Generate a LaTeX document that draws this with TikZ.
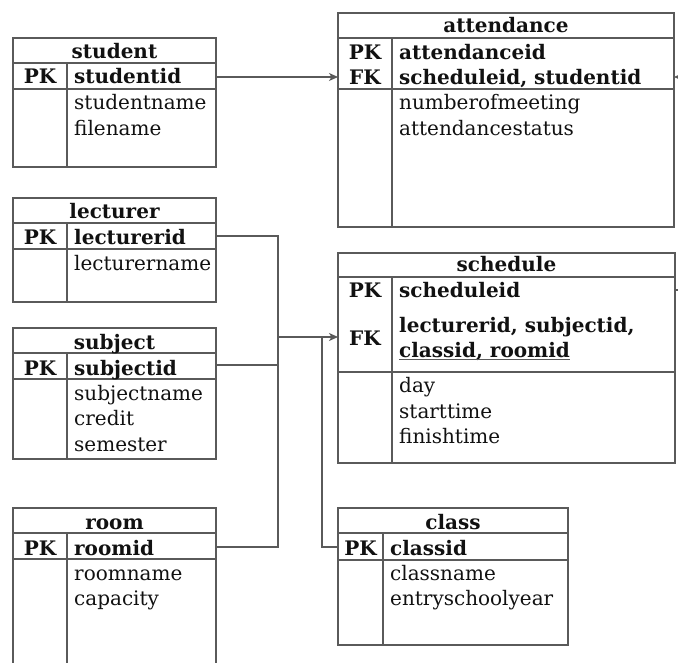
\documentclass[tikz,border=0pt]{standalone}
\usepackage{fontspec}
\setmainfont{DejaVu Serif}
\usetikzlibrary{arrows.meta}
\definecolor{ln}{HTML}{5A5A5A}
\definecolor{tx}{HTML}{111111}
\begin{document}
\begin{tikzpicture}[x=1pt,y=-1pt,
 tbl/.style={draw=ln, line width=1.4pt, anchor=north west, inner sep=0pt, outer sep=0pt},
 sep/.style={draw=ln, line width=1.4pt},
 conn/.style={draw=ln, line width=1.2pt},
 arr/.style={conn, -{Stealth[length=9pt,width=8pt,inset=2.5pt]}},
 fld/.style={anchor=base west, inner sep=0pt, font=\fontsize{20}{24}\selectfont, text=tx},
 key/.style={anchor=base, inner sep=0pt, font=\fontsize{20}{24}\selectfont\bfseries, text=tx},
 ttl/.style={anchor=base, inner sep=0pt, font=\fontsize{20}{24}\selectfont\bfseries, text=tx},
 ]
\useasboundingbox (0,0) rectangle (678,663);
\clip (0,0) rectangle (678,663);

% student
\node[tbl, minimum width=203pt, minimum height=129pt] (student) at (13,38) {};
\draw[sep] (13,63) -- (216,63) (13,89) -- (216,89) (67,63) -- (67,167);
\node[ttl] (studentT) at (114.5,59) {student};
\node[key] (studentPK) at (40,84) {PK};
\node[fld] (studentF1) at (74,84) {\bfseries studentid};
\node[fld] (studentF2) at (74,110) {studentname};
\node[fld] (studentF3) at (74,136) {filename};

% lecturer
\node[tbl, minimum width=203pt, minimum height=104pt] (lecturer) at (13,198) {};
\draw[sep] (13,223) -- (216,223) (13,249) -- (216,249) (67,223) -- (67,302);
\node[ttl] (lecturerT) at (114.5,219) {lecturer};
\node[key] (lecturerPK) at (40,245) {PK};
\node[fld] (lecturerF1) at (74,245) {\bfseries lecturerid};
\node[fld] (lecturerF2) at (74,271) {lecturername};

% subject
\node[tbl, minimum width=203pt, minimum height=131pt] (subject) at (13,328) {};
\draw[sep] (13,353) -- (216,353) (13,379) -- (216,379) (67,353) -- (67,459);
\node[ttl] (subjectT) at (114.5,349) {subject};
\node[key] (subjectPK) at (40,375) {PK};
\node[fld] (subjectF1) at (74,375) {\bfseries subjectid};
\node[fld] (subjectF2) at (74,400) {subjectname};
\node[fld] (subjectF3) at (74,425.5) {credit};
\node[fld] (subjectF4) at (74,451) {semester};

% room
\node[tbl, minimum width=203pt, minimum height=200pt] (room) at (13,508) {};
\draw[sep] (13,533) -- (216,533) (13,559) -- (216,559) (67,533) -- (67,708);
\node[ttl] (roomT) at (114.5,529) {room};
\node[key] (roomPK) at (40,555) {PK};
\node[fld] (roomF1) at (74,555) {\bfseries roomid};
\node[fld] (roomF2) at (74,580) {roomname};
\node[fld] (roomF3) at (74,605) {capacity};

% attendance
\node[tbl, minimum width=336pt, minimum height=214pt] (attendance) at (338,13) {};
\draw[sep] (338,38) -- (674,38) (338,89) -- (674,89) (392,38) -- (392,227);
\node[ttl] (attendanceT) at (506,33) {attendance};
\node[key] (attendancePK) at (365,60) {PK};
\node[key] (attendanceFK) at (365,85) {FK};
\node[fld] (attendanceF1) at (399,60) {\bfseries attendanceid};
\node[fld] (attendanceF2) at (399,85) {\bfseries scheduleid, studentid};
\node[fld] (attendanceF3) at (399,110) {numberofmeeting};
\node[fld] (attendanceF4) at (399,136) {attendancestatus};

% schedule
\node[tbl, minimum width=337pt, minimum height=210pt] (schedule) at (338,253) {};
\draw[sep] (338,277) -- (675,277) (338,372) -- (675,372) (392,277) -- (392,463);
\node[ttl] (scheduleT) at (506.5,272) {schedule};
\node[key] (schedulePK) at (365,298) {PK};
\node[key] (scheduleFK) at (365,345) {FK};
\node[fld] (scheduleF1) at (399,298) {\bfseries scheduleid};
\node[fld] (scheduleF2) at (399,333) {\bfseries lecturerid, subjectid,};
\node[fld] (scheduleF3) at (399,357) {\bfseries classid, roomid};
\draw[draw=ln, line width=0.8pt] ([yshift=-2.5pt]scheduleF3.base west) -- ([yshift=-2.5pt]scheduleF3.base east);
\node[fld] (scheduleF4) at (399,392) {day};
\node[fld] (scheduleF5) at (399,418) {starttime};
\node[fld] (scheduleF6) at (399,443) {finishtime};

% class
\node[tbl, minimum width=230pt, minimum height=137pt] (class) at (338,508) {};
\draw[sep] (338,533) -- (568,533) (338,560) -- (568,560) (383,533) -- (383,645);
\node[ttl] (classT) at (453,529) {class};
\node[key] (classPK) at (360.5,555) {PK};
\node[fld] (classF1) at (390,555) {\bfseries classid};
\node[fld] (classF2) at (390,580) {classname};
\node[fld] (classF3) at (390,605) {entryschoolyear};

% connectors
\coordinate (jSt) at (277,77);
\coordinate (jL) at (278,236);
\coordinate (jS) at (278,365);
\coordinate (jR) at (278,547);
\coordinate (jM) at (278,337);
\coordinate (jC1) at (322,337);
\coordinate (jC2) at (322,547);
\coordinate (offA) at (695,77);
\coordinate (offS) at (695,290);

\draw[arr] (student.east |- jSt) -- (attendance.west |- jSt);
\draw[conn] (lecturer.east |- jL) -- (jL) -- (jR) -- (room.east |- jR);
\draw[conn] (subject.east |- jS) -- (jS);
\draw[arr] (jM) -- (schedule.west |- jM);
\draw[conn] (class.west |- jC2) -- (jC2) -- (jC1);
\draw[arr] (offA) -- (attendance.east |- offA);
\draw[conn] (schedule.east |- offS) -- (offS);
\end{tikzpicture}
\end{document}
